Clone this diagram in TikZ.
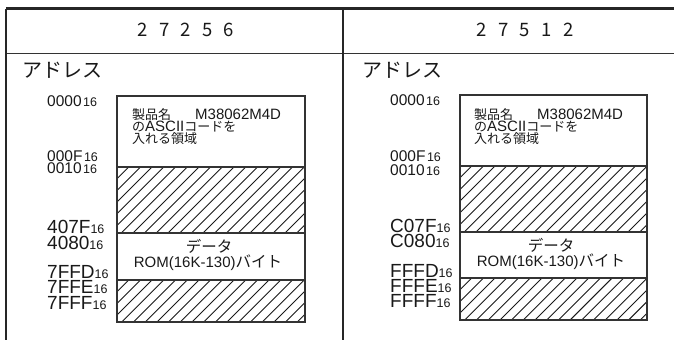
\documentclass[tikz,border=0pt]{standalone}
\usepackage{fontspec}
\setmainfont{Liberation Sans}
\newfontfamily\jp{Noto Sans CJK JP}
\newcommand\subsm[1]{\hspace{1.5pt}{\fontsize{12.5}{12.5}\selectfont #1}}
\newcommand\sublg[1]{{\fontsize{12.5}{12.5}\selectfont #1}}
\newcommand\jps[1]{{\jp\fontsize{13}{13}\selectfont #1}}
\newcommand\hatchrect[4]{%
  \begin{scope}
    \clip (#1,#2) rectangle (#3,#4);
    \foreach \k in {0,...,24}{
      \draw[hatchline] ({#1-(#4-#2)+\k*11.7},#4) -- ++({#4-#2},{-(#4-#2)});
    }
  \end{scope}}
\tikzset{
  frameline/.style={line width=2pt, draw=black!85},
  headline/.style={line width=1pt, draw=black!80},
  boxline/.style={line width=1.1pt, draw=black!80},
  hatchline/.style={line width=0.9pt, draw=black!90},
  addrsm/.style={anchor=base west, inner sep=0pt, text=black!90, font=\fontsize{15.5}{15.5}\selectfont},
  addrlg/.style={anchor=base west, inner sep=0pt, text=black!90, font=\fontsize{19}{19}\selectfont},
  boxtxt/.style={anchor=base west, inner sep=0pt, text=black!90, font=\fontsize{15}{15}\selectfont},
  datatxt/.style={anchor=base, inner sep=0pt, text=black!90, font=\fontsize{15}{15}\selectfont},
  headtxt/.style={anchor=base, inner sep=0pt, text=black!90, font=\jp\fontsize{18.5}{18.5}\selectfont},
  adrtitle/.style={anchor=base west, inner sep=0pt, text=black!90, font=\jp\fontsize{20}{20}\selectfont},
}
\begin{document}
\begin{tikzpicture}[x=1pt,y=-1pt]
\useasboundingbox (0,0) rectangle (674,340);
% frame
\coordinate (tl) at (6,8.5);
\coordinate (tr) at (674,8.5);
\coordinate (hl) at (6,53);
\coordinate (hr) at (674,53);
\coordinate (bl) at (6,340);
\coordinate (mt) at (343,8.5);
\coordinate (mb) at (343,340);
\draw[headline] (hl) -- (hr);
\draw[frameline] (tl) -- (bl);
\draw[frameline] (mt) -- (mb);
\draw[line width=2.5pt, draw=black!85] (tl) -- (tr);
% headers
\node[headtxt] (h1) at (186,36) {2\hspace{11.3pt}7\hspace{11.3pt}2\hspace{11.3pt}5\hspace{11.3pt}6};
\node[headtxt] (h2) at (525,36) {2\hspace{11.3pt}7\hspace{11.3pt}5\hspace{11.3pt}1\hspace{11.3pt}2};
\node[adrtitle] (t1) at (22,77.5) {アドレス};
\node[adrtitle] (t2) at (362,77.5) {アドレス};

% ---------- left panel ----------
\hatchrect{117}{167}{305}{233}
\hatchrect{117}{280}{305}{322}
\draw[boxline] (117,96) rectangle (305,322);
\draw[boxline] (117,167) -- (305,167);
\draw[boxline] (117,233) -- (305,233);
\draw[boxline] (117,280) -- (305,280);
\node[boxtxt] (l1) at (132,119.5) {\jps{製品名}\hspace{24pt}M38062M4D};
\node[boxtxt] (l2) at (132,131.5) {\jps{の}ASCII\jps{コードを}};
\node[boxtxt] (l3) at (132,143.5) {\jps{入れる領域}};
\node[datatxt] (l4) at (209,252) {{\jp\fontsize{15.5}{15.5}\selectfont データ}};
\node[datatxt] (l5) at (208,267) {ROM(16K-130){\jp\fontsize{15.5}{15.5}\selectfont バイト}};
\node[addrsm] (a1) at (47,106) {0000\subsm{16}};
\node[addrsm] (a2) at (47,161) {000F\subsm{16}};
\node[addrsm] (a3) at (47,173.5) {0010\subsm{16}};
\node[addrlg] (a4) at (47,233) {407F\sublg{16}};
\node[addrlg] (a5) at (47,249) {4080\sublg{16}};
\node[addrlg] (a6) at (47,278) {7FFD\sublg{16}};
\node[addrlg] (a7) at (47,293.5) {7FFE\sublg{16}};
\node[addrlg] (a8) at (47,309.5) {7FFF\sublg{16}};

% ---------- right panel ----------
\hatchrect{460}{166}{647}{232}
\hatchrect{460}{278}{647}{320}
\draw[boxline] (460,95) rectangle (647,320);
\draw[boxline] (460,166) -- (647,166);
\draw[boxline] (460,232) -- (647,232);
\draw[boxline] (460,278) -- (647,278);
\node[boxtxt] (r1) at (474,119.5) {\jps{製品名}\hspace{24pt}M38062M4D};
\node[boxtxt] (r2) at (474,131.5) {\jps{の}ASCII\jps{コードを}};
\node[boxtxt] (r3) at (474,143.5) {\jps{入れる領域}};
\node[datatxt] (r4) at (551,251) {{\jp\fontsize{15.5}{15.5}\selectfont データ}};
\node[datatxt] (r5) at (551,266) {ROM(16K-130){\jp\fontsize{15.5}{15.5}\selectfont バイト}};
\node[addrsm] (b1) at (390,105) {0000\subsm{16}};
\node[addrsm] (b2) at (390,161) {000F\subsm{16}};
\node[addrsm] (b3) at (390,175) {0010\subsm{16}};
\node[addrlg] (b4) at (390,232) {C07F\sublg{16}};
\node[addrlg] (b5) at (390,247) {C080\sublg{16}};
\node[addrlg] (b6) at (390,277) {FFFD\sublg{16}};
\node[addrlg] (b7) at (390,292) {FFFE\sublg{16}};
\node[addrlg] (b8) at (390,307) {FFFF\sublg{16}};
\end{tikzpicture}
\end{document}
